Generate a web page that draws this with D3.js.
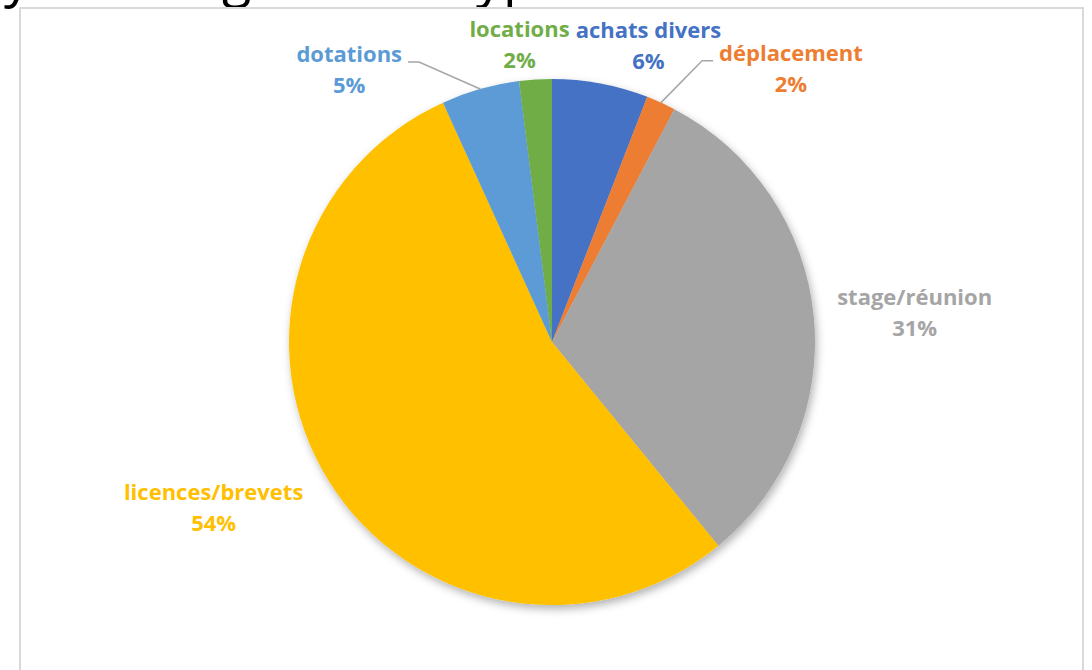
<!DOCTYPE html>
<html>
<head>
<meta charset="utf-8">
<script src="https://cdn.jsdelivr.net/npm/d3@7"></script>
<style>
	body { margin: 0; background: #fff; }
	svg { display: block; }
	.lbl { font-family: 'Open Sans', sans-serif; font-weight: 700; font-size: 22px; }
</style>
</head>
<body>
<svg width="1092" height="670"></svg>
<script>
// data, clockwise from 12 o'clock
const categories = [ 'achats divers', 'déplacement', 'stage/réunion', 'licences/brevets', 'dotations', 'locations' ];
const values = [ 5.9, 1.8, 31.4, 54.1, 4.8, 2.0 ];
const percentLabels = [ '6%', '2%', '31%', '54%', '5%', '2%' ];

const colors = [ '#4472C4', '#ED7D31', '#A5A5A5', '#FFC000', '#5B9BD5', '#70AD47' ];
// label placement, offset from the slice's outer edge point (name baseline, centred)
const labelOffsets = [ [ 48, -46 ], [ 130, -42 ], [ 101, -11 ], [ -115, 19 ], [ -131, -27 ], [ -16, -43 ] ];
const withLeader = [ false, true, false, false, true, false ];

const cx = 552;
const cy = 342;
const radius = 263;

const svg = d3.select('svg');

// cropped title of the page above the chart
const title = svg.append('text')
	.attr('y', -4)
	.attr('font-family', 'Open Sans, sans-serif')
	.attr('font-size', 54)
	.attr('fill', '#000');
title.append('tspan').attr('x', 4).text('y');
title.append('tspan').attr('x', 222).text('g');
title.append('tspan').attr('x', 476).text('yp');

// chart frame
svg.append('rect')
	.attr('x', 20)
	.attr('y', 8)
	.attr('width', 1063)
	.attr('height', 700)
	.attr('fill', '#fff')
	.attr('stroke', '#D9D9D9')
	.attr('stroke-width', 2);

const defs = svg.append('defs');
defs.append('filter')
	.attr('id', 'shadow')
	.attr('x', '-20%').attr('y', '-20%').attr('width', '140%').attr('height', '140%')
	.append('feDropShadow')
	.attr('dx', 2)
	.attr('dy', 4)
	.attr('stdDeviation', 4)
	.attr('flood-color', '#000')
	.attr('flood-opacity', 0.3);

const pie = d3.pie().sort(null).value((d) => d.value);
const data = categories.map((c, i) => ({ name: c, value: values[i], pct: percentLabels[i], i: i }));
const arcs = pie(data);

const arc = d3.arc().innerRadius(0).outerRadius(radius);

const chart = svg.append('g').attr('transform', `translate(${cx}, ${cy})`);

chart.append('g')
	.attr('filter', 'url(#shadow)')
	.selectAll('path')
	.data(arcs)
	.enter()
	.append('path')
	.attr('d', arc)
	.attr('fill', (d) => colors[d.data.i]);

function edgePoint (d) {
	const a = (d.startAngle + d.endAngle) / 2;
	return [ radius * Math.sin(a), -radius * Math.cos(a) ];
}

const labels = chart.selectAll('.lbl')
	.data(arcs)
	.enter()
	.append('g')
	.attr('class', 'lbl');

labels.each(function (d) {
	const g = d3.select(this);
	const p = edgePoint(d);
	const off = labelOffsets[d.data.i];
	const x = p[0] + off[0];
	const y = p[1] + off[1];
	const col = colors[d.data.i];

	const name = g.append('text')
		.attr('x', x)
		.attr('y', y)
		.attr('text-anchor', 'middle')
		.attr('fill', col)
		.text(d.data.name);
	g.append('text')
		.attr('x', x)
		.attr('y', y + 31)
		.attr('text-anchor', 'middle')
		.attr('fill', col)
		.text(d.data.pct);

	if (withLeader[d.data.i]) {
		const w = name.node().getComputedTextLength();
		const side = p[0] < 0 ? 1 : -1; // text left of the pie -> line leaves from its right end
		const start = x + side * (w / 2 + 6);
		const pts = [ [ start, y ], [ start + side * 11, y ], p ];
		chart.insert('path', '.lbl')
			.attr('d', d3.line()(pts))
			.attr('fill', 'none')
			.attr('stroke', '#A6A6A6')
			.attr('stroke-width', 1.5);
	}
});
</script>
</body>
</html>
